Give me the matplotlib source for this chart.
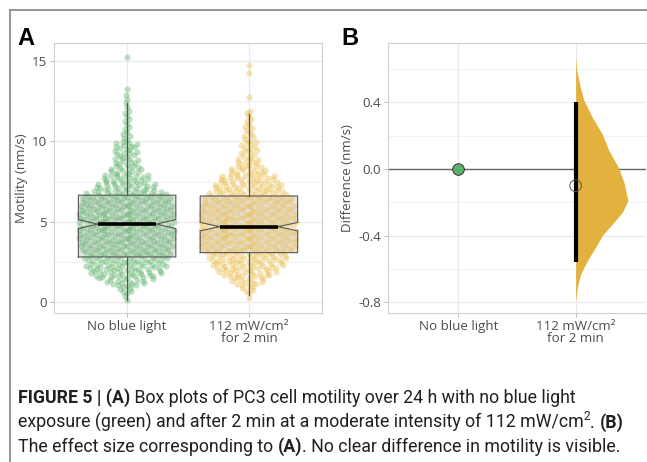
#!/usr/bin/env python3
"""
Figure 5 re-draw: PC3 cell motility with / without blue light (A)
and the effect size of the difference (B).
"""

import numpy as np
import matplotlib.pyplot as plt
from matplotlib.lines import Line2D

# ---- data ----
groups = ['No blue light', '112 mW/cm²\nfor 2 min']
point_colors = ['#5fb46b', '#ebbd4e']

# motility counts per 0.5 nm/s bin, bins start at 0 (dot histogram)
bin_width = 0.5
green_counts = [2, 6, 16, 26, 30, 31, 32, 33, 34, 34, 34, 33, 32, 30, 22, 18,
                13, 10, 9, 10, 4, 3, 3, 3, 2, 2, 1, 0, 0, 0, 1]
yellow_counts = [1, 5, 12, 20, 26, 29, 33, 34, 34, 34, 34, 33, 32, 29, 25, 21,
                 14, 9, 7, 7, 5, 4, 3, 3, 0, 1, 0, 0, 1, 1, 0]

# notched box statistics
q1 = [2.80, 3.07]
medians = [4.85, 4.69]
q3 = [6.65, 6.60]
notch_lo = [4.57, 4.43]
notch_hi = [5.13, 4.95]
whisk_lo = [0.10, 0.43]
whisk_hi = [12.40, 11.70]

# panel B: mean difference, 95% CI and bootstrap density (half violin)
diff_mean = -0.10
diff_ci = [-0.555, 0.40]
dens_y = [0.68, 0.60, 0.50, 0.41, 0.31, 0.21, 0.11, 0.01, -0.08, -0.19,
          -0.26, -0.33, -0.40, -0.47, -0.55, -0.63, -0.71, -0.80]
dens_w = [0.0, 0.008, 0.037, 0.071, 0.142, 0.227, 0.284, 0.364, 0.412, 0.446,
          0.398, 0.313, 0.227, 0.170, 0.100, 0.043, 0.014, 0.0]

GRID = '#ebebeb'
BORDER = '#cfcfcf'
TXT = '#4d4d4d'
FONT = ['Open Sans', 'DejaVu Sans']
FS = 9.6


def vdc(i):
    """van der Corput (base 2) - used to spread dots sideways"""
    v, denom = 0.0, 1.0
    while i:
        denom *= 2
        v += (i % 2) / denom
        i //= 2
    return v


def swarm_xy(counts, center, maxw=0.41):
    counts = np.asarray(counts)
    mids = (np.arange(len(counts)) + 0.5) * bin_width
    xs, ys = [], []
    for k, n in enumerate(counts):
        for i in range(n):
            y = k * bin_width + (i + 0.5) / n * bin_width
            w = maxw * np.interp(y, mids, counts) / counts.max()
            xs.append(center + (2 * vdc(i + 1) - 1) * w)
            ys.append(y)
    return np.array(xs), np.array(ys)


def style_axes(ax):
    ax.set_facecolor('white')
    for s in ax.spines.values():
        s.set_color(BORDER)
        s.set_linewidth(0.8)
    ax.grid(True, which='major', color=GRID, linewidth=0.9, zorder=0)
    ax.grid(True, which='minor', axis='y', color=GRID, linewidth=0.5, zorder=0)
    ax.set_axisbelow(True)
    ax.tick_params(which='major', length=3, width=0.6, color='#b3b3b3',
                   labelcolor=TXT, labelsize=FS, pad=2)
    ax.tick_params(which='minor', length=0)
    for lab in ax.get_xticklabels() + ax.get_yticklabels():
        lab.set_family(FONT)
    ax.set_xlim(0.4, 2.6)
    ax.set_xticks([1, 2])
    ax.set_xticklabels(groups, family=FONT, linespacing=0.95)


def draw_box(ax, pos, i, hw=0.40, nw=0.6):
    xl, xr = pos - hw, pos + hw
    nl, nr = pos - hw * nw, pos + hw * nw
    bx = [xl, xr, xr, nr, xr, xr, xl, xl, nl, xl, xl]
    by = [q1[i], q1[i], notch_lo[i], medians[i], notch_hi[i], q3[i], q3[i],
          notch_hi[i], medians[i], notch_lo[i], q1[i]]
    ax.fill(bx, by, color='#e4e4e4', zorder=1, lw=0)
    ax.plot(bx, by, color='#555555', lw=0.8, zorder=4)
    ax.plot([pos, pos], [q3[i], whisk_hi[i]], color='#555555', lw=0.9, zorder=4)
    ax.plot([pos, pos], [whisk_lo[i], q1[i]], color='#555555', lw=0.9, zorder=4)
    ax.plot([nl, nr], [medians[i], medians[i]], color='black', lw=2.6,
            solid_capstyle='butt', zorder=5)


fig = plt.figure(figsize=(6.47, 4.62), dpi=100)
W, H = 647, 462

# ---- panel A ----
axA = fig.add_axes([54 / W, 1 - 313 / H, 268 / W, 270 / H])
for i, counts in enumerate([green_counts, yellow_counts]):
    draw_box(axA, i + 1, i)
    xs, ys = swarm_xy(counts, i + 1)
    axA.scatter(xs, ys, s=19, color=point_colors[i], alpha=0.42,
                linewidths=0, zorder=3)
axA.set_ylim(-0.69, 16.13)
axA.set_yticks([0, 5, 10, 15])
axA.set_yticks([2.5, 7.5, 12.5], minor=True)
style_axes(axA)
axA.set_ylabel('Motility (nm/s)', family=FONT, fontsize=FS, color=TXT,
               labelpad=3)

# ---- panel B ----
axB = fig.add_axes([388 / W, 1 - 313 / H, 258 / W, 270 / H])
axB.axhline(0, color='#666666', lw=1.0, zorder=2)
axB.fill_betweenx(dens_y, 2, 2 + np.array(dens_w), color='#e2b13e',
                  lw=0, zorder=3)
axB.plot([2, 2], diff_ci, color='black', lw=3.0, solid_capstyle='butt',
         zorder=4)
axB.scatter([1], [0], s=70, color='#5dae69', edgecolors='#333333',
            linewidths=0.7, zorder=5)
axB.scatter([2], [diff_mean], s=70, facecolors='none', edgecolors='#555555',
            linewidths=0.7, zorder=5)
axB.set_ylim(-0.864, 0.756)
axB.set_yticks([-0.8, -0.4, 0.0, 0.4])
axB.set_yticklabels(['-0.8', '-0.4', '0.0', '0.4'])
axB.set_yticks([-0.6, -0.2, 0.2, 0.6], minor=True)
style_axes(axB)
axB.spines['right'].set_visible(False)
axB.set_ylabel('Difference (nm/s)', family=FONT, fontsize=FS, color=TXT,
               labelpad=3)

# panel letters
fig.text(17 / W, 1 - 45 / H, 'A', fontsize=17, fontweight='bold',
         family='Liberation Sans', va='baseline')
fig.text(341 / W, 1 - 45 / H, 'B', fontsize=17, fontweight='bold',
         family='Liberation Sans', va='baseline')

# frame of the figure box (top and left edges)
fig.add_artist(Line2D([10 / W, 1], [1 - 10 / H, 1 - 10 / H],
                      color='#8c8c8c', lw=1.3))
fig.add_artist(Line2D([10 / W, 10 / W], [0, 1 - 10 / H],
                      color='#8c8c8c', lw=1.3))

# ---- caption, written piece by piece ----
CAP = ['Roboto', 'DejaVu Sans']
lines = [
    [('FIGURE 5 | (A)', 'bold', 0), (' Box plots of PC3 cell motility over 24 h with no blue light', 'normal', 0)],
    [('exposure (green) and after 2 min at a moderate intensity of 112 mW/cm', 'normal', 0),
     ('2', 'normal', 1), ('. ', 'normal', 0), ('(B)', 'bold', 0)],
    [('The effect size corresponding to ', 'normal', 0), ('(A)', 'bold', 0),
     ('. No clear difference in motility is visible.', 'normal', 0)],
]
renderer = fig.canvas.get_renderer()
for li, parts in enumerate(lines):
    x = 18
    base = 403 + li * 24.5
    for s, weight, sup in parts:
        t = fig.text(x / W, 1 - (base - (7 if sup else 0)) / H, s,
                     fontsize=8.6 if sup else 12.8, fontweight=weight,
                     family=CAP, color='#231f20', va='baseline')
        x += t.get_window_extent(renderer).width

fig.savefig('out.png', dpi=100, facecolor='white')
